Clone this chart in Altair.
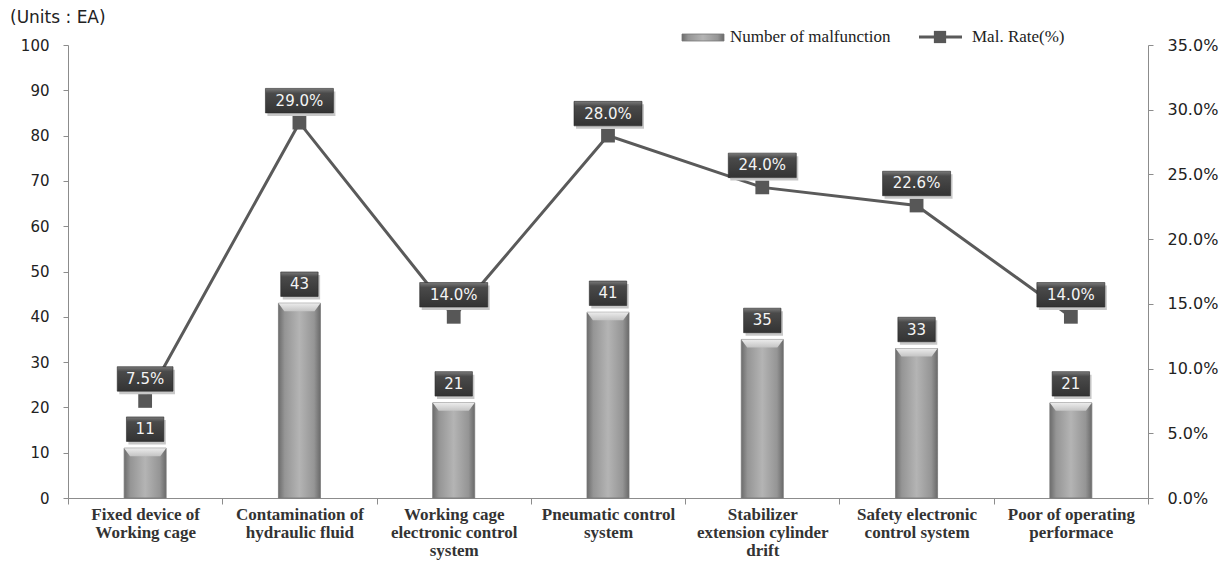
import altair as alt
import pandas as pd

categories = [
    "Fixed device of\nWorking cage",
    "Contamination of\nhydraulic fluid",
    "Working cage\nelectronic control\nsystem",
    "Pneumatic control\nsystem",
    "Stabilizer\nextension cylinder\ndrift",
    "Safety electronic\ncontrol system",
    "Poor of operating\nperformace",
]
counts = [11, 43, 21, 41, 35, 33, 21]
rates = [7.5, 29.0, 14.0, 28.0, 24.0, 22.6, 14.0]
left_ticks = list(range(0, 101, 10))
right_ticks = [0, 5, 10, 15, 20, 25, 30, 35]

df = pd.DataFrame({"cat": categories, "count": counts, "rate": rates})
dummy = pd.DataFrame({"k": [0]})

AX = "#8c8c8c"
x = alt.X(
    "cat:N",
    sort=categories,
    scale=alt.Scale(paddingInner=0, paddingOuter=0),
    axis=alt.Axis(
        title=None, labelAngle=0, labelExpr="split(datum.label, '\\n')",
        tickBand="extent", labelFont="Liberation Serif", labelFontWeight="bold",
        labelFontSize=17, labelColor="#333333", domainColor=AX, tickColor=AX,
        tickSize=6, labelPadding=2, labelLineHeight=18, labelLimit=220,
    ),
)
yL = alt.Y(
    "count:Q",
    scale=alt.Scale(domain=[0, 100], nice=False),
    axis=alt.Axis(
        title=None, orient="left", values=left_ticks, grid=False,
        labelFont="DejaVu Sans", labelFontSize=15, labelColor="#222222",
        domainColor=AX, tickColor=AX, tickSize=5, labelPadding=14,
    ),
)
yR = alt.Y(
    "rate:Q",
    scale=alt.Scale(domain=[0, 35], nice=False),
    axis=alt.Axis(
        title=None, orient="right", values=right_ticks, grid=False,
        labelExpr="format(datum.value, '.1f') + '%'",
        labelFont="DejaVu Sans", labelFontSize=16, labelColor="#222222",
        domainColor=AX, tickColor=AX, tickSize=5, labelPadding=14,
    ),
)

bar_grad = alt.LinearGradient(
    gradient="linear", x1=0, x2=1, y1=0, y2=0,
    stops=[
        alt.GradientStop(color="#6c6c6c", offset=0),
        alt.GradientStop(color="#959595", offset=0.15),
        alt.GradientStop(color="#b4b4b4", offset=0.5),
        alt.GradientStop(color="#959595", offset=0.85),
        alt.GradientStop(color="#6a6a6a", offset=1),
    ],
)
cap_grad = alt.LinearGradient(
    gradient="linear", x1=0, x2=0, y1=0, y2=1,
    stops=[
        alt.GradientStop(color="#ececec", offset=0),
        alt.GradientStop(color="#c4c4c4", offset=1),
    ],
)
box_grad = alt.LinearGradient(
    gradient="linear", x1=0, x2=0, y1=0, y2=1,
    stops=[
        alt.GradientStop(color="#7a7a7a", offset=0),
        alt.GradientStop(color="#4a4a4a", offset=0.2),
        alt.GradientStop(color="#333333", offset=1),
    ],
)

BOX68 = "M-1,-0.36H1V0.36H-1Z"
BOX56 = "M-0.82,-0.36H0.82V0.36H-0.82Z"
BOX37 = "M-0.55,-0.36H0.55V0.36H-0.55Z"
CAP = "M-1,0L1,0L0.72,0.38L-0.72,0.38Z"
BOXSIZE = 68 * 68

base = alt.Chart(df)

bars = base.mark_bar(size=42, color=bar_grad, stroke="#777777", strokeWidth=0.8).encode(x=x, y=yL)
caps = base.mark_point(shape=CAP, size=42 * 42, filled=True, fill=cap_grad, opacity=1, strokeWidth=0).encode(x=x, y=yL)
blab = base.transform_calculate(lbl="'' + datum.count")
bshadow = blab.mark_point(shape=BOX37, size=BOXSIZE, filled=True, color="#c8c8c8", opacity=1, yOffset=-16, xOffset=2).encode(x=x, y=yL)
bbox = blab.mark_point(shape=BOX37, size=BOXSIZE, filled=True, fill=box_grad, opacity=1, stroke="#2a2a2a", strokeWidth=0.6, yOffset=-19).encode(x=x, y=yL)
btext = blab.mark_text(font="DejaVu Sans", fontSize=15, color="#f4f4f4", dy=-19, baseline="middle", align="center").encode(x=x, y=yL, text="lbl:N")

left_group = alt.layer(bars, caps, bshadow, bbox, btext)

line = base.mark_line(color="#5a5a5a", strokeWidth=3).encode(x=x, y=yR)
marks = base.mark_square(size=190, color="#575757", opacity=1).encode(x=x, y=yR)
rlab = base.transform_calculate(
    lbl="format(datum.rate, '.1f') + '%'",
    shp=f"length(format(datum.rate, '.1f')) > 3 ? '{BOX68}' : '{BOX56}'",
)
rshadow = rlab.mark_point(size=BOXSIZE, filled=True, color="#c8c8c8", opacity=1, yOffset=-19, xOffset=2).encode(
    x=x, y=yR, shape=alt.Shape("shp:N", scale=None))
rbox = rlab.mark_point(size=BOXSIZE, filled=True, fill=box_grad, opacity=1, stroke="#2a2a2a", strokeWidth=0.6, yOffset=-22).encode(
    x=x, y=yR, shape=alt.Shape("shp:N", scale=None))
rtext = rlab.mark_text(font="DejaVu Sans", fontSize=15, color="#f4f4f4", dy=-22, baseline="middle", align="center").encode(
    x=x, y=yR, text="lbl:N")

right_group = alt.layer(line, marks, rshadow, rbox, rtext)

d = alt.Chart(dummy)
units = d.mark_text(text="(Units : EA)", font="DejaVu Sans", fontSize=17, color="#222222", align="left", baseline="middle").encode(
    x=alt.value(-58), y=alt.value(-27))
leg_bar = d.mark_rect(color=bar_grad, stroke="#777777", strokeWidth=0.8).encode(
    x=alt.value(614), x2=alt.value(656), y=alt.value(-11), y2=alt.value(-4))
leg_bar_t = d.mark_text(text="Number of malfunction", font="Liberation Serif", fontSize=17, color="#222222", align="left", baseline="middle").encode(
    x=alt.value(662), y=alt.value(-8))
leg_line = d.mark_rule(color="#5a5a5a", strokeWidth=3).encode(
    x=alt.value(851), x2=alt.value(894), y=alt.value(-8))
leg_sq = d.mark_square(size=150, color="#575757", opacity=1).encode(x=alt.value(872), y=alt.value(-8))
leg_line_t = d.mark_text(text="Mal. Rate(%)", font="Liberation Serif", fontSize=17, color="#222222", align="left", baseline="middle").encode(
    x=alt.value(904), y=alt.value(-8))

chart = alt.layer(
    left_group, right_group, units, leg_bar, leg_bar_t, leg_line, leg_sq, leg_line_t
).resolve_scale(y="independent").properties(
    width=1080, height=453,
    autosize=alt.AutoSizeParams(type="none"),
    padding={"left": 68, "top": 45, "right": 84, "bottom": 65},
    background="white",
).configure_view(strokeWidth=0)

chart.save("out.html", embed_options={"renderer": "svg", "actions": False})
